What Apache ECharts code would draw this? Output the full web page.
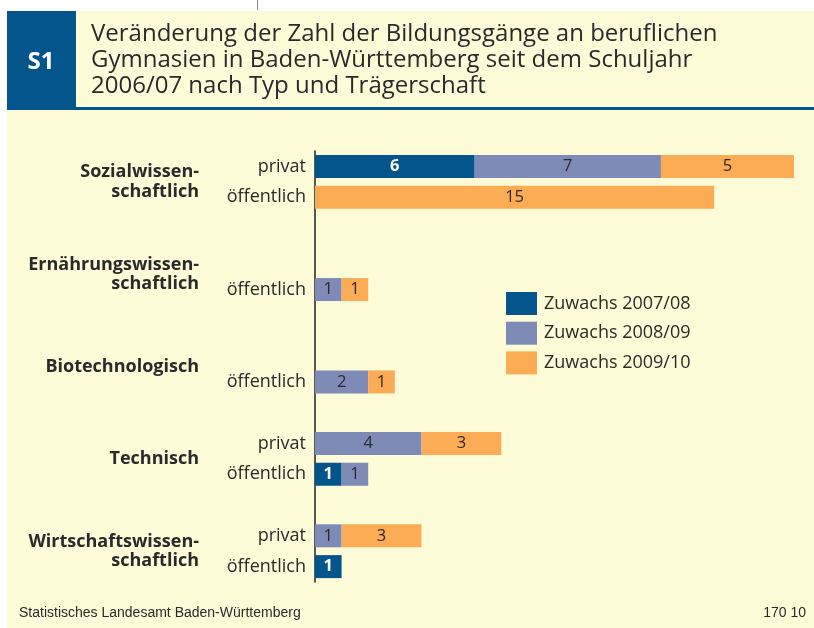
<!DOCTYPE html>
<html>
<head>
<meta charset="utf-8">
<script src="https://cdn.jsdelivr.net/npm/echarts@6/dist/echarts.min.js"></script>
<style>
  html, body { margin: 0; padding: 0; background: #ffffff; }
  #chart { width: 814px; height: 628px; }
</style>
</head>
<body>
<div id="chart"></div>
<script>
// 14 Zeilen: je Gruppe privat / öffentlich, dazwischen eine Leerzeile
var rowLabels = ["privat", "öffentlich", "", "", "öffentlich", "", "", "öffentlich", "", "privat", "öffentlich", "", "privat", "öffentlich"];
var groupLabels = ["Sozialwissen-\nschaftlich", "Ernährungswissen-\nschaftlich", "Biotechnologisch", "Technisch", "Wirtschaftswissen-\nschaftlich"];
var seriesNames = ["Zuwachs 2007/08", "Zuwachs 2008/09", "Zuwachs 2009/10"];
var zuwachs0708 = [6, null, null, null, null, null, null, null, null, null, 1, null, null, 1];
var zuwachs0809 = [7, null, null, null, 1, null, null, 2, null, 4, 1, null, 1, null];
var zuwachs0910 = [5, 15, null, null, 1, null, null, 1, null, 3, null, null, 3, null];

var YELLOW = "#fefbd8";
var BLUE = "#03558b";
var colors = [BLUE, "#7d8bb6", "#fbac55"];
var FONT = "Open Sans";

var chart = echarts.init(document.getElementById("chart"));

// Gruppenbeschriftung liegt mittig zwischen den beiden Zeilen einer Gruppe
function groupLabel(v) {
  if ((v - 2) % 6 === 0) return groupLabels[(v - 2) / 6] || "";
  return "";
}

function barSeries(i, data) {
  return {
    name: seriesNames[i],
    type: "bar",
    stack: "all",
    barWidth: 23,
    data: data,
    itemStyle: { color: colors[i] },
    label: {
      show: true,
      position: "inside",
      fontFamily: FONT,
      fontSize: 16.5,
      fontWeight: i === 0 ? "bold" : "normal",
      color: i === 0 ? "#ffffff" : "#2a2a2a"
    },
    emphasis: { disabled: true }
  };
}

var option = {
  animation: false,
  backgroundColor: "#ffffff",
  grid: { left: 315, right: 20, top: 151, bottom: 46 },
  xAxis: {
    type: "value",
    min: 0,
    max: 18,
    show: false
  },
  yAxis: [
    {
      type: "category",
      inverse: true,
      data: rowLabels,
      axisLine: { show: true, lineStyle: { color: "#222", width: 1.5 } },
      axisTick: { show: false },
      axisLabel: { fontFamily: FONT, fontSize: 18, color: "#2a2a2a", margin: 9, interval: 0 }
    },
    {
      type: "value",
      inverse: true,
      position: "left",
      offset: 108,
      min: 0,
      max: 28,
      interval: 1,
      axisLine: { show: false },
      axisTick: { show: false },
      splitLine: { show: false },
      axisLabel: {
        fontFamily: FONT,
        fontSize: 18,
        fontWeight: "bold",
        color: "#2a2a2a",
        lineHeight: 19.5,
        align: "right",
        margin: 8,
        formatter: groupLabel
      }
    }
  ],
  legend: {
    orient: "vertical",
    left: 506,
    top: 292,
    padding: 0,
    itemWidth: 31,
    itemHeight: 23,
    itemGap: 6.7,
    icon: "rect",
    selectedMode: false,
    textStyle: { fontFamily: FONT, fontSize: 18, color: "#2a2a2a", padding: [0, 0, 0, 2] },
    data: seriesNames
  },
  graphic: [
    { type: "rect", z: -10, shape: { x: 7, y: 108, width: 807, height: 520 }, style: { fill: YELLOW } },
    { type: "rect", z: -10, shape: { x: 76, y: 11, width: 738, height: 97 }, style: { fill: YELLOW } },
    { type: "rect", z: -9, shape: { x: 7, y: 11, width: 69, height: 99 }, style: { fill: BLUE } },
    { type: "rect", z: -9, shape: { x: 7, y: 107, width: 807, height: 3 }, style: { fill: BLUE } },
    { type: "rect", z: -9, shape: { x: 257, y: 0, width: 1, height: 10 }, style: { fill: "#888" } },
    { type: "text", x: 41, y: 62, style: { text: "S1", fontFamily: FONT, fontSize: 24, fontWeight: "bold", fill: "#ffffff", align: "center", verticalAlign: "middle" } },
    {
      type: "text", x: 91, y: 21,
      style: {
        text: "Veränderung der Zahl der Bildungsgänge an beruflichen\nGymnasien in Baden-Württemberg seit dem Schuljahr\n2006/07 nach Typ und Trägerschaft",
        fontFamily: FONT, fontSize: 24, lineHeight: 26, fill: "#2a2a2a"
      }
    },
    { type: "text", x: 19, y: 613, style: { text: "Statistisches Landesamt Baden-Württemberg", fontFamily: "Liberation Sans", fontSize: 14, fill: "#2a2a2a", verticalAlign: "middle" } },
    { type: "text", x: 806, y: 613, style: { text: "170 10", fontFamily: "Liberation Sans", fontSize: 14, fill: "#2a2a2a", align: "right", verticalAlign: "middle" } }
  ],
  series: [
    barSeries(0, zuwachs0708),
    barSeries(1, zuwachs0809),
    barSeries(2, zuwachs0910)
  ]
};

chart.setOption(option);
</script>
</body>
</html>
